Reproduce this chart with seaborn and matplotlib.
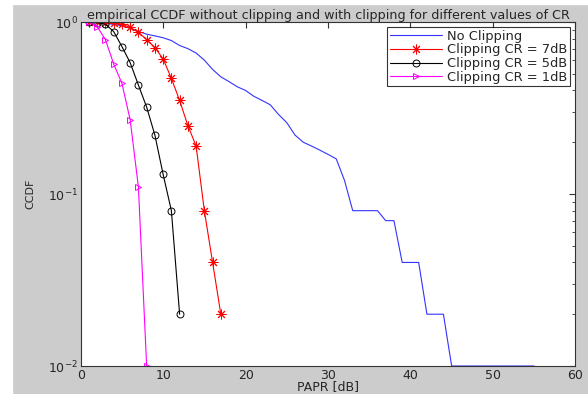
import numpy as np
import pandas as pd
import matplotlib
matplotlib.use('Agg')
import matplotlib.pyplot as plt
import seaborn as sns
from matplotlib.patches import Rectangle
from matplotlib.ticker import LogLocator, NullFormatter

# Donnees
x_none = list(range(1, 56))
y_none = [1.0, 0.99, 0.98, 0.97, 0.95, 0.92, 0.88, 0.85, 0.83, 0.81,
          0.78, 0.73, 0.70, 0.66, 0.60, 0.53, 0.48, 0.45, 0.42, 0.40,
          0.37, 0.35, 0.33, 0.29, 0.26, 0.22, 0.20, 0.19, 0.18, 0.17,
          0.16, 0.12, 0.08, 0.08, 0.08, 0.08, 0.07, 0.07, 0.04, 0.04,
          0.04, 0.02, 0.02, 0.02, 0.01, 0.01, 0.01, 0.01, 0.01, 0.01,
          0.01, 0.01, 0.01, 0.01, 0.01]

x_cr7 = list(range(1, 18))
y_cr7 = [1.0, 1.0, 0.99, 0.99, 0.97, 0.93, 0.87, 0.79, 0.71, 0.61,
         0.47, 0.35, 0.25, 0.19, 0.08, 0.04, 0.02]

x_cr5 = list(range(1, 13))
y_cr5 = [1.0, 0.99, 0.97, 0.88, 0.72, 0.58, 0.43, 0.32, 0.22, 0.13,
         0.08, 0.02]

x_cr1 = list(range(1, 9))
y_cr1 = [1.0, 0.94, 0.79, 0.57, 0.44, 0.27, 0.11, 0.01]

labels = ['No Clipping', 'Clipping CR = 7dB', 'Clipping CR = 5dB', 'Clipping CR = 1dB']

sns.set_style('white')
plt.rcParams['font.family'] = ['DejaVu Sans']

fig = plt.figure(figsize=(5.88, 3.94), dpi=100, facecolor='#cccccc')
ax = fig.add_axes([80.7 / 588, 1 - 366 / 394, (575.3 - 80.7) / 588, (366 - 22) / 394])
ax.set_facecolor('white')

df_none = pd.DataFrame({'x': x_none, 'y': y_none})
df7 = pd.DataFrame({'x': x_cr7, 'y': y_cr7})
df5 = pd.DataFrame({'x': x_cr5, 'y': y_cr5})
df1 = pd.DataFrame({'x': x_cr1, 'y': y_cr1})

sns.lineplot(data=df_none, x='x', y='y', ax=ax, color='#3333ff', lw=0.8, label=labels[0])
sns.lineplot(data=df7, x='x', y='y', ax=ax, color='#ff0000', lw=0.8, marker=(8, 2, 0),
             markersize=7, markeredgecolor='#ff0000', markeredgewidth=0.7, label=labels[1])
sns.lineplot(data=df5, x='x', y='y', ax=ax, color='black', lw=0.8, marker='o',
             markersize=5, markerfacecolor='none', markeredgecolor='black',
             markeredgewidth=0.7, label=labels[2])
sns.lineplot(data=df1, x='x', y='y', ax=ax, color='#ff00ff', lw=0.8, marker='>',
             markersize=5, markerfacecolor='none', markeredgecolor='#ff00ff',
             markeredgewidth=0.7, label=labels[3])

ax.set_yscale('log')
ax.set_xlim(0, 60)
ax.set_ylim(0.01, 1)
ax.set_xticks(range(0, 61, 10))
ax.yaxis.set_major_locator(LogLocator(base=10, numticks=5))
ax.yaxis.set_minor_locator(LogLocator(base=10, subs=np.arange(2, 10), numticks=20))
ax.yaxis.set_minor_formatter(NullFormatter())
ax.tick_params(which='both', direction='in', top=True, right=True, labelsize=9,
               color='#333333', pad=2)
ax.tick_params(which='major', length=4)
ax.tick_params(which='minor', length=2.5)
for s in ax.spines.values():
    s.set_color('#333333')
    s.set_linewidth(0.8)

ax.set_title('empirical CCDF without clipping and with clipping for different values of CR',
             fontsize=9.2, pad=2)
ax.set_xlabel('PAPR [dB]', fontsize=9, labelpad=-1)
ax.set_ylabel('CCDF', fontsize=8, labelpad=9)

leg = ax.legend(loc='upper right', fontsize=9.4, frameon=True, fancybox=False,
                handlelength=4.0, handletextpad=0.4, borderpad=0.2, labelspacing=0.05,
                borderaxespad=0.4)
leg.get_frame().set_edgecolor('black')
leg.get_frame().set_linewidth(0.8)

# bandes blanches du cadre de la capture
fig.patches.append(Rectangle((0, 0), 12 / 588, 1, transform=fig.transFigure,
                             color='white', zorder=0))
fig.patches.append(Rectangle((0, 1 - 4 / 394), 1, 4 / 394, transform=fig.transFigure,
                             color='white', zorder=0))

fig.savefig('out.png', dpi=100, facecolor=fig.get_facecolor())
